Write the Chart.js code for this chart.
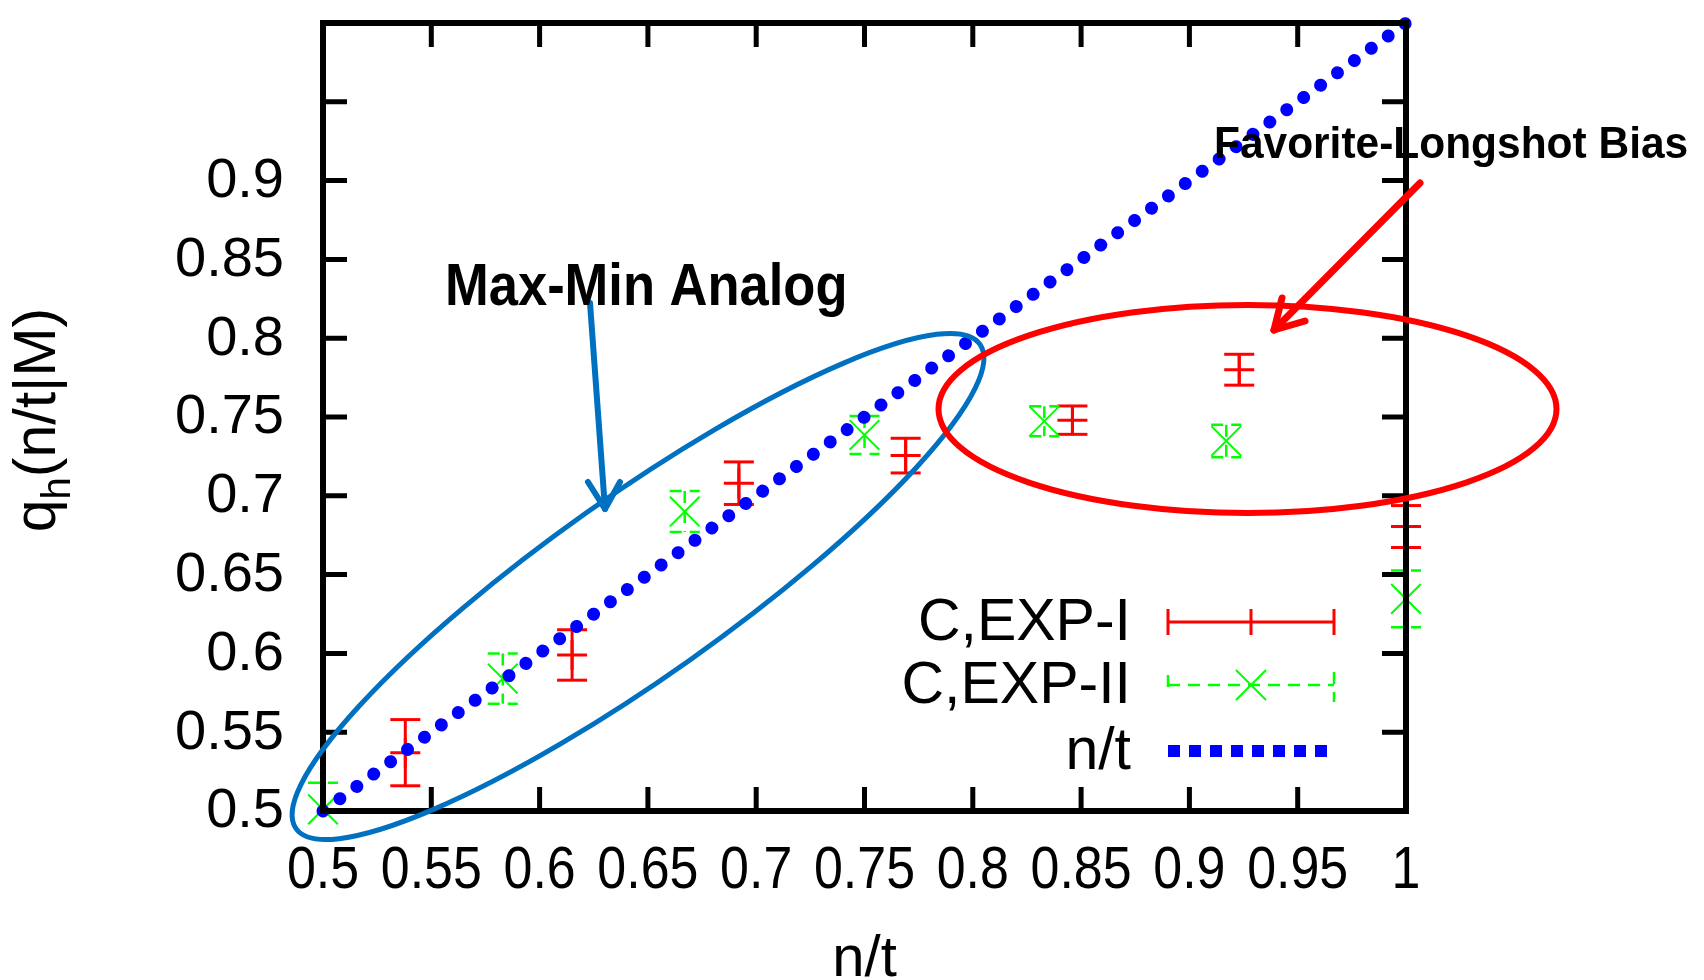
<!DOCTYPE html>
<html><head><meta charset="utf-8">
<script src="https://cdn.jsdelivr.net/npm/chart.js@4.4.1/dist/chart.umd.min.js"></script>
<style>html,body{margin:0;padding:0;background:#fff;overflow:hidden}canvas{display:block}</style>
</head><body>
<canvas id="c" width="1704" height="980"></canvas>
<script>
// ---- data ----
const xTickLabels = ['0.5','0.55','0.6','0.65','0.7','0.75','0.8','0.85','0.9','0.95','1'];
const yTickValues = [0.5,0.55,0.6,0.65,0.7,0.75,0.8,0.85,0.9,0.95,1.0];
const yTickLabels = ['0.5','0.55','0.6','0.65','0.7','0.75','0.8','0.85','0.9'];

const xExpI   = [0.538, 0.615, 0.692, 0.769, 0.846, 0.923, 1.0];
const yExpI   = [0.537, 0.599, 0.708, 0.7255, 0.748, 0.780, 0.6805];
const errExpI = [0.021, 0.016, 0.0135, 0.011, 0.009, 0.0098, 0.0133];

const xExpII   = [0.5, 0.583, 0.667, 0.75, 0.833, 0.917, 1.0];
const yExpII   = [0.501, 0.584, 0.690, 0.7386, 0.7473, 0.7348, 0.6346];
const errExpII = [0.017, 0.016, 0.013, 0.012, 0.0095, 0.0103, 0.018];

const xDiag = [0.5, 1.0];
const yDiag = [0.5, 1.0];

const seriesNames = ['C,EXP-I', 'C,EXP-II', 'n/t'];
const xTitle = 'n/t';
const yTitleMain = 'q', yTitleSub = 'h', yTitleRest = '(n/t|M)';
const noteLeft = 'Max-Min Analog';
const noteRight = 'Favorite-Longshot Bias';

const FONT = '"Liberation Sans", Arial, Helvetica, sans-serif';
const RED = '#ff0000', GREEN = '#00ff00', BLUE = '#0000ff', ANN_BLUE = '#0070c0';

function pts(xs, ys){ return xs.map((x,i)=>({x:x, y:ys[i]})); }

function txt(ctx, s, x, y, font, align, base, sx){
  ctx.save(); ctx.font = font; ctx.fillStyle = '#000';
  ctx.textAlign = align; ctx.textBaseline = base;
  ctx.translate(x, y); ctx.scale(sx || 1, 1); ctx.fillText(s, 0, 0); ctx.restore();
}

function errBars(chart, xs, ys, es, color, width, dash){
  const xS = chart.scales.x, yS = chart.scales.y, ctx = chart.ctx, a = chart.chartArea;
  ctx.save(); ctx.strokeStyle = color; ctx.lineWidth = width; ctx.setLineDash(dash); ctx.lineCap = 'butt';
  const cw = 15;
  for (let i = 0; i < xs.length; i++){
    const px = xS.getPixelForValue(xs[i]);
    const hi = yS.getPixelForValue(ys[i] + es[i]);
    const lo = yS.getPixelForValue(ys[i] - es[i]);
    const t = Math.max(hi, a.top), b = Math.min(lo, a.bottom);
    ctx.beginPath(); ctx.moveTo(px, t); ctx.lineTo(px, b); ctx.stroke();
    if (hi >= a.top - 0.5){ ctx.beginPath(); ctx.moveTo(px - cw, hi); ctx.lineTo(px + cw, hi); ctx.stroke(); }
    if (lo <= a.bottom + 0.5){ ctx.beginPath(); ctx.moveTo(px - cw, lo); ctx.lineTo(px + cw, lo); ctx.stroke(); }
  }
  ctx.restore();
}

function line(ctx, pts, color, w){
  ctx.save(); ctx.strokeStyle = color; ctx.lineWidth = w; ctx.lineCap = 'round'; ctx.lineJoin = 'round';
  ctx.beginPath(); ctx.moveTo(pts[0][0], pts[0][1]);
  for (let i = 1; i < pts.length; i++) ctx.lineTo(pts[i][0], pts[i][1]);
  ctx.stroke(); ctx.restore();
}

const gp = {
  id: 'gp',
  beforeDatasetsDraw(chart){
    errBars(chart, xExpI, yExpI, errExpI, RED, 3, []);
    errBars(chart, xExpII, yExpII, errExpII, GREEN, 2.5, [12, 8]);
  },
  afterDatasetsDraw(chart){
    const ctx = chart.ctx, a = chart.chartArea, xS = chart.scales.x, yS = chart.scales.y;
    // border
    ctx.save(); ctx.strokeStyle = '#000'; ctx.lineWidth = 6; ctx.lineJoin = 'miter';
    ctx.strokeRect(a.left, a.top, a.right - a.left, a.bottom - a.top);
    // inward ticks (mirrored)
    ctx.lineWidth = 5; const tl = 24;
    xTickLabels.forEach(l => {
      const v = parseFloat(l); if (v <= 0.5 || v >= 1) return;
      const px = xS.getPixelForValue(v);
      ctx.beginPath(); ctx.moveTo(px, a.bottom); ctx.lineTo(px, a.bottom - tl);
      ctx.moveTo(px, a.top); ctx.lineTo(px, a.top + tl); ctx.stroke();
    });
    yTickValues.forEach(v => {
      if (v <= 0.5 || v >= 1) return;
      const py = yS.getPixelForValue(v);
      ctx.beginPath(); ctx.moveTo(a.left, py); ctx.lineTo(a.left + tl, py);
      ctx.moveTo(a.right, py); ctx.lineTo(a.right - tl, py); ctx.stroke();
    });
    ctx.restore();
    // tick labels
    xTickLabels.forEach(l => {
      txt(ctx, l, xS.getPixelForValue(parseFloat(l)), 872, '59px ' + FONT, 'center', 'middle', 0.88);
    });
    yTickLabels.forEach(l => {
      txt(ctx, l, 284, yS.getPixelForValue(parseFloat(l)) + 1, '56px ' + FONT, 'right', 'middle', 1);
    });
    // axis titles
    txt(ctx, xTitle, (a.left + a.right) / 2, 976, '58px ' + FONT, 'center', 'alphabetic', 1);
    ctx.save();
    ctx.translate(55, 420); ctx.rotate(-Math.PI / 2);
    ctx.fillStyle = '#000'; ctx.textBaseline = 'alphabetic'; ctx.textAlign = 'left';
    ctx.font = '59px ' + FONT; const w1 = ctx.measureText(yTitleMain).width, w3 = ctx.measureText(yTitleRest).width;
    ctx.font = '40px ' + FONT; const w2 = ctx.measureText(yTitleSub).width;
    let sx = -(w1 + w2 + w3) / 2;
    ctx.font = '59px ' + FONT; ctx.fillText(yTitleMain, sx, 0); sx += w1;
    ctx.font = '40px ' + FONT; ctx.fillText(yTitleSub, sx, 15); sx += w2;
    ctx.font = '59px ' + FONT; ctx.fillText(yTitleRest, sx, 0);
    ctx.restore();
    // legend
    const lx0 = 1168, lx1 = 1334, lxm = 1251, ly = [622, 685, 751];
    seriesNames.forEach((n, i) => txt(ctx, n, 1131, ly[i] + 2, '59px ' + FONT, 'right', 'middle', 1));
    ctx.save();
    ctx.strokeStyle = RED; ctx.lineWidth = 3;
    ctx.beginPath(); ctx.moveTo(lx0, ly[0]); ctx.lineTo(lx1, ly[0]);
    [lx0, lxm, lx1].forEach(x => { ctx.moveTo(x, ly[0] - 13); ctx.lineTo(x, ly[0] + 13); });
    ctx.stroke();
    ctx.strokeStyle = GREEN; ctx.lineWidth = 2.5; ctx.setLineDash([12, 8]);
    ctx.beginPath(); ctx.moveTo(lx0, ly[1]); ctx.lineTo(lx1, ly[1]); ctx.stroke();
    ctx.beginPath(); ctx.moveTo(lx0, ly[1] - 10); ctx.lineTo(lx0, ly[1] + 6); ctx.stroke();
    ctx.beginPath(); ctx.moveTo(lx1, ly[1] - 13); ctx.lineTo(lx1, ly[1] + 17); ctx.stroke();
    ctx.setLineDash([]); ctx.lineWidth = 2;
    ctx.beginPath(); ctx.moveTo(lxm - 15, ly[1] - 15); ctx.lineTo(lxm + 15, ly[1] + 15);
    ctx.moveTo(lxm + 15, ly[1] - 15); ctx.lineTo(lxm - 15, ly[1] + 15); ctx.stroke();
    ctx.strokeStyle = BLUE; ctx.lineWidth = 12; ctx.setLineDash([12, 9]);
    ctx.beginPath(); ctx.moveTo(lx0, ly[2]); ctx.lineTo(lx0 + 159, ly[2]); ctx.stroke();
    ctx.restore();
  },
  afterDraw(chart){
    const ctx = chart.ctx;
    // blue ellipse + arrow + text
    ctx.save(); ctx.strokeStyle = ANN_BLUE; ctx.lineWidth = 5;
    ctx.beginPath(); ctx.ellipse(638, 586.5, 419, 90, -35.3 * Math.PI / 180, 0, 2 * Math.PI); ctx.stroke();
    ctx.restore();
    line(ctx, [[590, 303], [605, 509]], ANN_BLUE, 6);
    line(ctx, [[588, 482], [605, 509], [620, 482]], ANN_BLUE, 6);
    txt(ctx, noteLeft, 445, 305, 'bold 60px ' + FONT, 'left', 'alphabetic', 0.875);
    // red ellipse + arrow + text
    ctx.save(); ctx.strokeStyle = RED; ctx.lineWidth = 6;
    ctx.beginPath(); ctx.ellipse(1247.5, 409, 309, 104, 0, 0, 2 * Math.PI); ctx.stroke();
    ctx.restore();
    line(ctx, [[1420, 183], [1274, 330]], RED, 7);
    line(ctx, [[1282, 298], [1274, 330], [1305, 321]], RED, 7);
    txt(ctx, noteRight, 1214, 158, 'bold 44px ' + FONT, 'left', 'alphabetic', 0.965);
  }
};

new Chart(document.getElementById('c').getContext('2d'), {
  type: 'scatter',
  data: { datasets: [
    { label: seriesNames[2], type: 'line', data: pts(xDiag, yDiag), borderColor: BLUE, borderWidth: 13,
      borderDash: [0.01, 20.9], borderCapStyle: 'round', pointRadius: 0, fill: false, showLine: true, order: 0, clip: false },
    { label: seriesNames[1], data: pts(xExpII, yExpII), pointStyle: 'crossRot', pointRadius: 21,
      pointBorderColor: GREEN, borderColor: GREEN, pointBorderWidth: 2, order: 1, clip: false },
    { label: seriesNames[0], data: pts(xExpI, yExpI), pointStyle: 'cross', pointRadius: 15,
      pointBorderColor: RED, borderColor: RED, pointBorderWidth: 3, order: 2, clip: false }
  ]},
  options: {
    responsive: false, animation: false, devicePixelRatio: 1, events: [],
    layout: { padding: { left: 323, right: 298, top: 11, bottom: 169 } },
    plugins: { legend: { display: false }, tooltip: { enabled: false } },
    scales: {
      x: { type: 'linear', min: 0.5, max: 1, display: false, ticks: { stepSize: 0.05 } },
      y: { type: 'linear', min: 0.5, max: 1, display: false, ticks: { stepSize: 0.05 } }
    }
  },
  plugins: [gp]
});
</script>
</body></html>
